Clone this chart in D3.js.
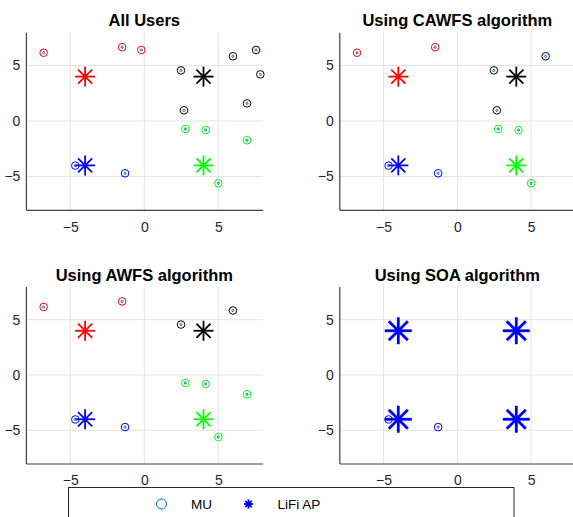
<!DOCTYPE html>
<html>
<head>
<meta charset="utf-8">
<script src="https://cdn.jsdelivr.net/npm/d3@7"></script>
<style>
  body { margin: 0; background: #fff; }
  svg { display: block; font-family: "Liberation Sans", Arial, sans-serif; }
</style>
</head>
<body>
<div id="root"><svg></svg></div>
<script>
const width = 573, height = 517;

// access points (cluster order: red, black, blue, green)
const apX = [-4, 4, -4, 4];
const apY = [4, 4, -4, -4];
const clusterColors = ['#ff0000', '#000000', '#0000ff', '#00ff00'];

// mobile users: x, y, cluster
const userX = [-6.8, -1.5, -0.2, 2.48, 5.99, 7.55, 7.84, 6.94, 2.68, 2.77, 4.15, 6.94, 5.0, -4.66, -1.3];
const userY = [6.15, 6.65, 6.4, 4.56, 5.83, 6.4, 4.2, 1.59, 0.96, -0.72, -0.81, -1.74, -5.61, -4.02, -4.71];
const userCluster = [0, 0, 0, 1, 1, 1, 1, 1, 1, 3, 3, 3, 3, 2, 2];

const titles = ['All Users', 'Using CAWFS algorithm', 'Using AWFS algorithm', 'Using SOA algorithm'];
const served = [
    d3.range(15),
    [0, 1, 3, 4, 8, 9, 10, 12, 13, 14],
    [0, 1, 3, 4, 9, 10, 11, 12, 13, 14],
    [13, 14]
];
const ticks = [-5, 0, 5];
const legendLabels = ['MU', 'LiFi AP'];

// panel placement [x0, x1, yTop, yBottom]
const panels = [
    [25.9, 262.7, 32.2, 209.8],
    [339.3, 575.3, 32.2, 209.8],
    [25.9, 262.7, 286.5, 463.5],
    [339.3, 575.3, 286.5, 463.5]
];

const svg = d3.select('#root').select('svg')
    .attr('width', width)
    .attr('height', height);

function asterisk(g, cx, cy, r, color, sw) {
    [0, 45, 90, 135].forEach(a => {
        const rad = a * Math.PI / 180;
        const dx = Math.cos(rad) * r, dy = Math.sin(rad) * r;
        g.append('line')
            .attr('x1', cx - dx).attr('y1', cy - dy)
            .attr('x2', cx + dx).attr('y2', cy + dy)
            .attr('stroke', color)
            .attr('stroke-width', sw);
    });
}

panels.forEach((p, i) => {
    const x = d3.scaleLinear().domain([-8, 8]).range([p[0], p[1]]);
    const y = d3.scaleLinear().domain([-8, 8]).range([p[3], p[2]]);
    const g = svg.append('g');

    // grid
    g.selectAll('.gx').data(ticks).enter().append('line')
        .attr('x1', d => x(d)).attr('x2', d => x(d))
        .attr('y1', p[2]).attr('y2', p[3])
        .attr('stroke', '#e3e3e3').attr('stroke-width', 1);
    g.selectAll('.gy').data(ticks).enter().append('line')
        .attr('y1', d => y(d)).attr('y2', d => y(d))
        .attr('x1', p[0]).attr('x2', p[1])
        .attr('stroke', '#e3e3e3').attr('stroke-width', 1);

    // axes
    const xa = g.append('g')
        .attr('transform', `translate(0,${p[3]})`)
        .call(d3.axisBottom(x).tickValues(ticks).tickSize(0).tickPadding(12));
    const ya = g.append('g')
        .attr('transform', `translate(${p[0]},0)`)
        .call(d3.axisLeft(y).tickValues(ticks).tickSize(0).tickPadding(5.5));
    [xa, ya].forEach(a => {
        a.select('.domain').attr('stroke', '#404040').attr('stroke-width', 1.2);
        a.selectAll('text')
            .attr('fill', '#262626')
            .style('font-size', '14px')
            .style('font-family', '"Liberation Sans", Arial, sans-serif');
    });

    g.append('text')
        .attr('x', (p[0] + p[1]) / 2)
        .attr('y', p[2] - 6)
        .attr('text-anchor', 'middle')
        .attr('font-weight', 'bold')
        .attr('font-size', '16.5px')
        .attr('fill', '#000')
        .text(titles[i]);

    const soa = i === 3;
    const idx = served[i];

    // user rings
    g.selectAll('.ring').data(idx).enter().append('circle')
        .attr('cx', d => x(userX[d])).attr('cy', d => y(userY[d]))
        .attr('r', 3.8)
        .attr('fill', 'none')
        .attr('stroke', d => soa ? '#0000ff' : clusterColors[userCluster[d]])
        .attr('stroke-width', 1);
    // user position dots
    g.selectAll('.dot').data(idx).enter().append('circle')
        .attr('cx', d => x(userX[d])).attr('cy', d => y(userY[d]))
        .attr('r', 1.1)
        .attr('fill', '#cfe3f2')
        .attr('stroke', '#0072bd')
        .attr('stroke-width', 0.9);

    // access points
    apX.forEach((ax, k) => {
        asterisk(g, x(ax), y(apY[k]), soa ? 13.5 : 10,
            soa ? '#0000ff' : clusterColors[k], soa ? 2.8 : 1.8);
    });
});

// legend
const lg = svg.append('g');
lg.append('rect')
    .attr('x', 68.5).attr('y', 487.5)
    .attr('width', 445.5).attr('height', 40)
    .attr('fill', '#fff')
    .attr('stroke', '#262626')
    .attr('stroke-width', 1);
lg.append('circle')
    .attr('cx', 161.5).attr('cy', 504).attr('r', 5)
    .attr('fill', 'none').attr('stroke', '#0072bd').attr('stroke-width', 1);
lg.append('text')
    .attr('x', 191).attr('y', 509)
    .attr('font-size', '13.5px').attr('fill', '#000')
    .text(legendLabels[0]);
asterisk(lg, 248.5, 504, 4.5, '#0000ff', 1.8);
lg.append('text')
    .attr('x', 277.5).attr('y', 509)
    .attr('font-size', '13.5px').attr('fill', '#000')
    .text(legendLabels[1]);
</script>
</body>
</html>
